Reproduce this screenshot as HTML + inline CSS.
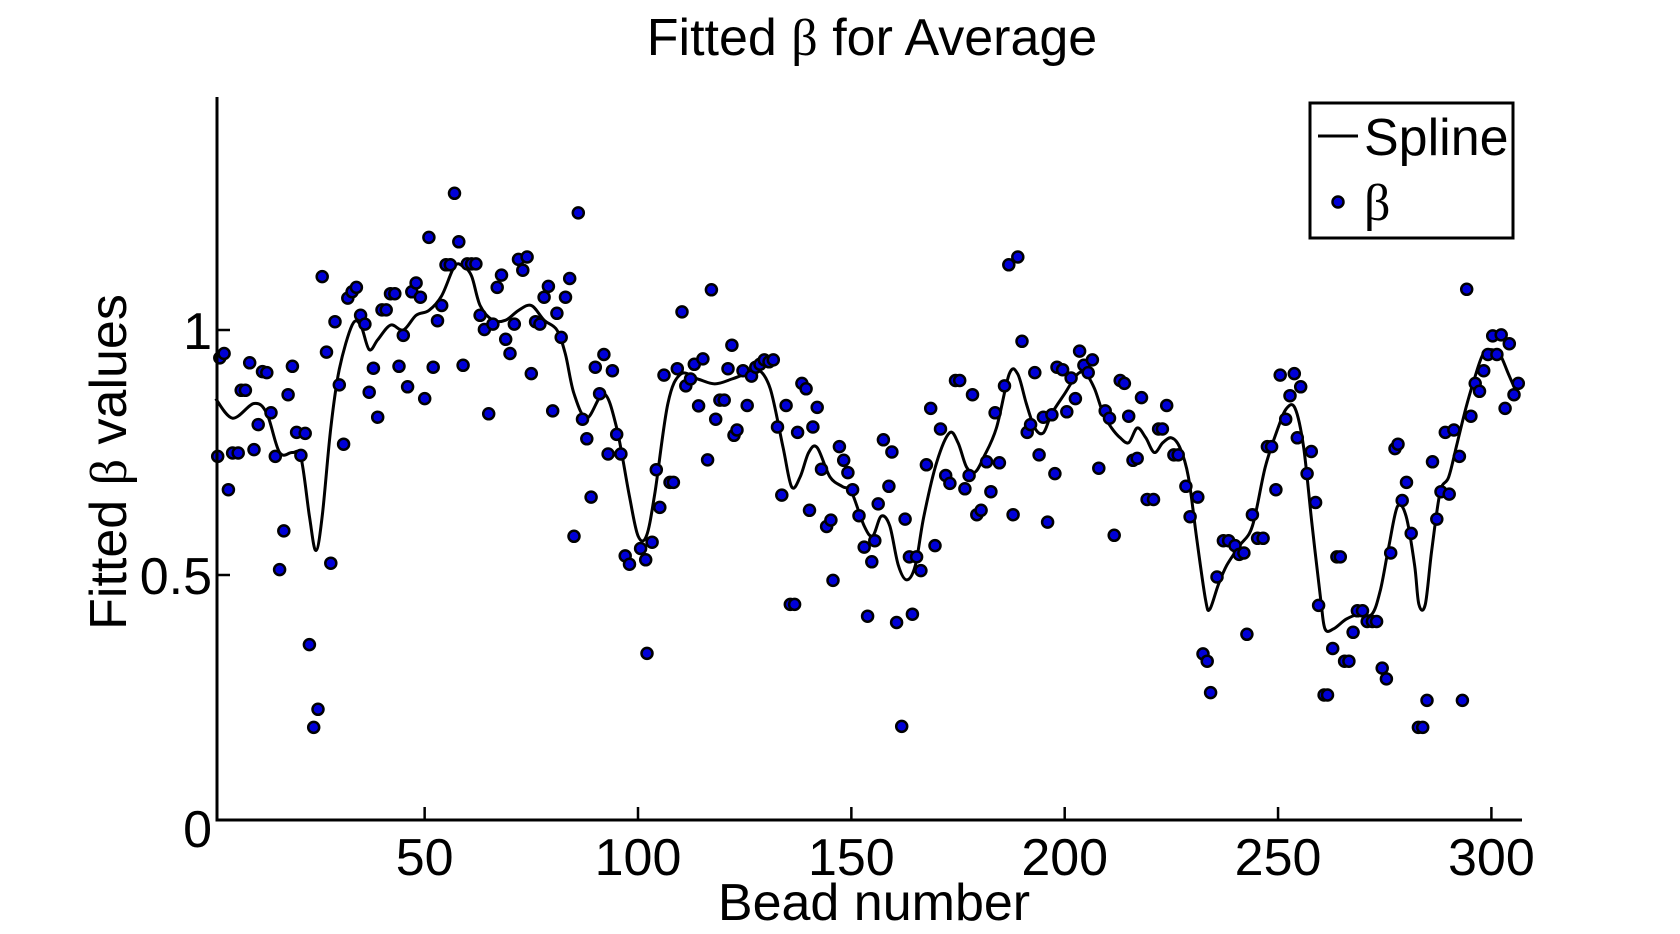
<!DOCTYPE html>
<html><head><meta charset="utf-8"><style>
html,body{margin:0;padding:0;background:#fff}
svg{display:block}
text{font-family:"Liberation Sans",sans-serif;fill:#000}
</style></head><body>
<svg id="chart" width="1680" height="934" viewBox="0 0 1680 934" xmlns="http://www.w3.org/2000/svg">
<text x="872" y="55" font-size="52" text-anchor="middle">Fitted <tspan font-family="Liberation Serif">β</tspan> for Average</text>
<text transform="translate(126,462) rotate(-90)" font-size="52" text-anchor="middle">Fitted <tspan font-family="Liberation Serif">β</tspan> values</text>
<text x="874" y="920" font-size="52" text-anchor="middle">Bead number</text>
<g id="marks"></g>
<g id="axes"></g>
<g>
<rect x="1310" y="103" width="203" height="135" fill="#fff" stroke="#000" stroke-width="3"/>
<line x1="1318" y1="136" x2="1358" y2="136" stroke="#000" stroke-width="3"/>
<text x="1364" y="155" font-size="52">Spline</text>
<circle cx="1338" cy="202" r="5.5" fill="#0000d8" stroke="#000" stroke-width="2.5"/>
<text x="1364" y="220" font-size="52" font-family="Liberation Serif" style="font-family:'Liberation Serif',serif">β</text>
</g>
</svg>
<script>
const xTicks=[50,100,150,200,250,300];
const yTicks=[0,0.5,1];
const yTickLabels=["0","0.5","1"];
const beadX=[1.5,2,3,4,5,6.3,7,8,9,10,11,12,13,14,15,16,17,18,19,20,21,22,23,24,25,26,27,28,29,30,31,32,33,34,35,36,37,38,39,40,41,42,43,44,45,46,47,48,49,50,51,52,53,54,55,56,57,58,59,60,61,62,63,64,65,66,67,68,69,70,71,72,73,74,75,76,77,78,79,80,81,82,83,84,85,86,87,88,89,90,91,92,93,94,95,96,97,98,100.6,101.8,102.1,103.3,104.3,105.1,106.1,107.5,108.3,109.2,110.3,111.2,112.3,113.2,114.2,115.2,116.3,117.2,118.2,119.2,120.2,121.1,122,122.5,123.2,124.6,125.6,126.6,127.6,128.6,129.6,130.7,131.7,132.7,133.7,134.7,135.7,136.7,137.4,138.4,139.4,140.2,141,142,143,144.2,145.2,145.7,147.2,148.2,149.2,150.3,151.8,153,153.8,154.8,155.5,156.3,157.5,158.8,159.5,160.6,161.8,162.6,163.6,164.3,165.3,166.3,167.6,168.6,169.6,170.9,172.1,173.1,174.4,175.4,176.6,177.6,178.4,179.4,180.4,181.7,182.7,183.7,184.7,185.9,186.9,187.9,189,190,191.2,192,193,194,195,196,197,197.7,198.2,199.5,200.5,201.5,202.5,203.5,204.5,205.5,206.5,208,209.5,210.5,211.6,213,214,215,216,217,218,219.3,220.8,222,222.9,223.9,225.6,226.6,228.4,229.4,231.2,232.4,233.4,234.2,235.7,237.2,238.4,239.9,240.9,242,242.7,244,245.2,246.5,247.5,248.5,249.5,250.5,251.8,252.8,253.8,254.5,255.3,256.8,257.8,258.8,259.5,260.8,261.6,262.8,263.8,264.6,265.6,266.6,267.6,268.6,269.8,270.9,272.1,273.1,274.4,275.4,276.4,277.4,278.1,279.1,280.1,281.2,282.9,283.9,284.9,286.2,287.2,288.2,289.2,290.1,291.2,292.5,293.2,294.2,295.2,296.2,297.2,298.2,299.2,300.3,301.3,302.3,303.2,304.2,305.3,306.3];
const betaY=[0.742,0.943,0.952,0.674,0.749,0.749,0.877,0.877,0.933,0.756,0.807,0.915,0.913,0.831,0.742,0.511,0.590,0.868,0.926,0.791,0.744,0.789,0.358,0.189,0.226,1.109,0.955,0.524,1.017,0.888,0.767,1.065,1.078,1.087,1.030,1.012,0.873,0.922,0.822,1.041,1.041,1.074,1.074,0.926,0.989,0.884,1.078,1.096,1.067,0.860,1.189,0.924,1.019,1.050,1.133,1.133,1.279,1.180,0.928,1.135,1.135,1.135,1.030,1.001,0.829,1.012,1.087,1.112,0.981,0.952,1.012,1.144,1.122,1.149,0.911,1.017,1.012,1.067,1.089,0.835,1.034,0.985,1.067,1.105,0.579,1.239,0.818,0.778,0.659,0.924,0.870,0.950,0.747,0.917,0.787,0.747,0.539,0.522,0.554,0.531,0.340,0.567,0.715,0.638,0.908,0.689,0.689,0.921,1.037,0.886,0.900,0.930,0.845,0.941,0.735,1.082,0.818,0.857,0.857,0.921,0.969,0.785,0.796,0.917,0.846,0.906,0.924,0.930,0.939,0.935,0.939,0.802,0.663,0.846,0.44,0.44,0.791,0.891,0.88,0.632,0.802,0.842,0.716,0.599,0.612,0.489,0.762,0.734,0.709,0.674,0.621,0.557,0.416,0.527,0.57,0.645,0.776,0.681,0.751,0.403,0.191,0.614,0.537,0.42,0.537,0.509,0.725,0.84,0.56,0.798,0.703,0.687,0.897,0.897,0.676,0.703,0.868,0.623,0.632,0.731,0.67,0.831,0.729,0.886,1.133,0.623,1.149,0.977,0.791,0.807,0.913,0.745,0.822,0.608,0.827,0.707,0.924,0.919,0.833,0.902,0.86,0.957,0.928,0.913,0.939,0.718,0.835,0.82,0.581,0.897,0.891,0.824,0.734,0.738,0.862,0.654,0.654,0.798,0.798,0.846,0.745,0.745,0.681,0.619,0.659,0.339,0.324,0.26,0.496,0.57,0.57,0.56,0.542,0.545,0.379,0.623,0.575,0.575,0.762,0.762,0.674,0.908,0.818,0.866,0.911,0.78,0.884,0.707,0.752,0.648,0.438,0.255,0.255,0.35,0.537,0.537,0.324,0.324,0.383,0.427,0.427,0.405,0.405,0.405,0.31,0.288,0.545,0.758,0.767,0.652,0.689,0.585,0.189,0.189,0.244,0.731,0.614,0.67,0.791,0.665,0.796,0.742,0.244,1.083,0.824,0.891,0.875,0.917,0.95,0.988,0.95,0.99,0.84,0.972,0.868,0.891];
const splineX=[1,5,10,13,16,19,21,23,24.5,26,28,30,33,35,37,39,42,45,48,51,54,57,59,61,63,66,69,72,75,78,81,83,85,88,92,95,98,100,102,104,107,110,114,118,122,125,128,131,134,136,138,140,142,145,148,150,153,155,157,159,161,163,165,167,170,173,175,177,179,181,184,187,189,191,193,195,197,200,203,205,207,209,211,213,215,217,219,221,223,225,227,229,231,233,234,236,238,241,244,247,250,252,254,256,258,260,261,263,266,269,272,274,276,278,280,282,283,284.5,286,288,290,292,294,296,298,300,302,304,306];
const splineY=[0.86,0.82,0.85,0.83,0.75,0.75,0.74,0.62,0.55,0.62,0.80,0.92,1.01,1.01,0.96,0.98,1.01,1.0,1.03,1.04,1.07,1.13,1.13,1.11,1.05,1.02,1.02,1.04,1.05,1.02,1.0,0.95,0.87,0.82,0.87,0.80,0.66,0.58,0.58,0.67,0.85,0.91,0.90,0.89,0.90,0.91,0.92,0.88,0.76,0.68,0.70,0.75,0.76,0.70,0.68,0.67,0.60,0.58,0.62,0.60,0.52,0.49,0.52,0.62,0.73,0.79,0.77,0.72,0.71,0.74,0.80,0.91,0.91,0.85,0.80,0.79,0.83,0.87,0.91,0.91,0.88,0.83,0.80,0.78,0.77,0.80,0.78,0.75,0.77,0.78,0.76,0.70,0.57,0.45,0.43,0.48,0.52,0.56,0.60,0.72,0.80,0.84,0.84,0.76,0.60,0.45,0.39,0.39,0.41,0.42,0.42,0.47,0.56,0.64,0.62,0.52,0.44,0.44,0.55,0.67,0.70,0.77,0.84,0.90,0.95,0.96,0.95,0.91,0.87];

const NS='http://www.w3.org/2000/svg';
const X0=211.3, XS=4.267, Y0=820, YS=490;
const AXL=217, AXR=1522, AXT=97;
function px(v){return X0+XS*v;}
function py(v){return Y0-YS*v;}
function mk(t,a,parent){const e=document.createElementNS(NS,t);for(const k in a)e.setAttribute(k,a[k]);parent.appendChild(e);return e;}
const marks=document.getElementById('marks');
const axes=document.getElementById('axes');

const P=splineX.map((x,i)=>[px(x),py(splineY[i])]);
let d='M'+P[0][0].toFixed(1)+','+P[0][1].toFixed(1);
for(let i=0;i<P.length-1;i++){
  const p0=P[Math.max(0,i-1)],p1=P[i],p2=P[i+1],p3=P[Math.min(P.length-1,i+2)];
  const c1=[p1[0]+(p2[0]-p0[0])/6,p1[1]+(p2[1]-p0[1])/6];
  const c2=[p2[0]-(p3[0]-p1[0])/6,p2[1]-(p3[1]-p1[1])/6];
  d+=' C'+c1[0].toFixed(1)+','+c1[1].toFixed(1)+' '+c2[0].toFixed(1)+','+c2[1].toFixed(1)+' '+p2[0].toFixed(1)+','+p2[1].toFixed(1);
}
const sp=mk('path',{d:d,fill:'none',stroke:'#000','stroke-width':3,'stroke-linejoin':'round'},marks);



beadX.forEach((x,i)=>{
  const c=mk('circle',{cx:px(x).toFixed(1),cy:py(betaY[i]).toFixed(1),r:5.5,fill:'#0000d8',stroke:'#000','stroke-width':2.5},marks);
  
  
});

const ya=mk('line',{x1:AXL,y1:AXT,x2:AXL,y2:Y0,stroke:'#000','stroke-width':3},axes);


const xa=mk('line',{x1:AXL-1.5,y1:Y0,x2:AXR,y2:Y0,stroke:'#000','stroke-width':3},axes);



xTicks.forEach(v=>{
  const t=mk('line',{x1:px(v),y1:Y0,x2:px(v),y2:Y0-13,stroke:'#000','stroke-width':2.5},axes);
  
  
  const l=mk('text',{x:px(v),y:Y0+55,'font-size':52,'text-anchor':'middle'},axes);
  l.textContent=String(v);
  
  
});
yTicks.forEach((v,i)=>{
  const t=mk('line',{x1:AXL,y1:py(v),x2:AXL+13,y2:py(v),stroke:'#000','stroke-width':2.5},axes);
  
  
  const l=mk('text',{x:AXL-5,y:py(v)+19+(v===0?8:0),'font-size':52,'text-anchor':'end'},axes);
  l.textContent=yTickLabels[i];
  
  
});
</script>
</body></html>
